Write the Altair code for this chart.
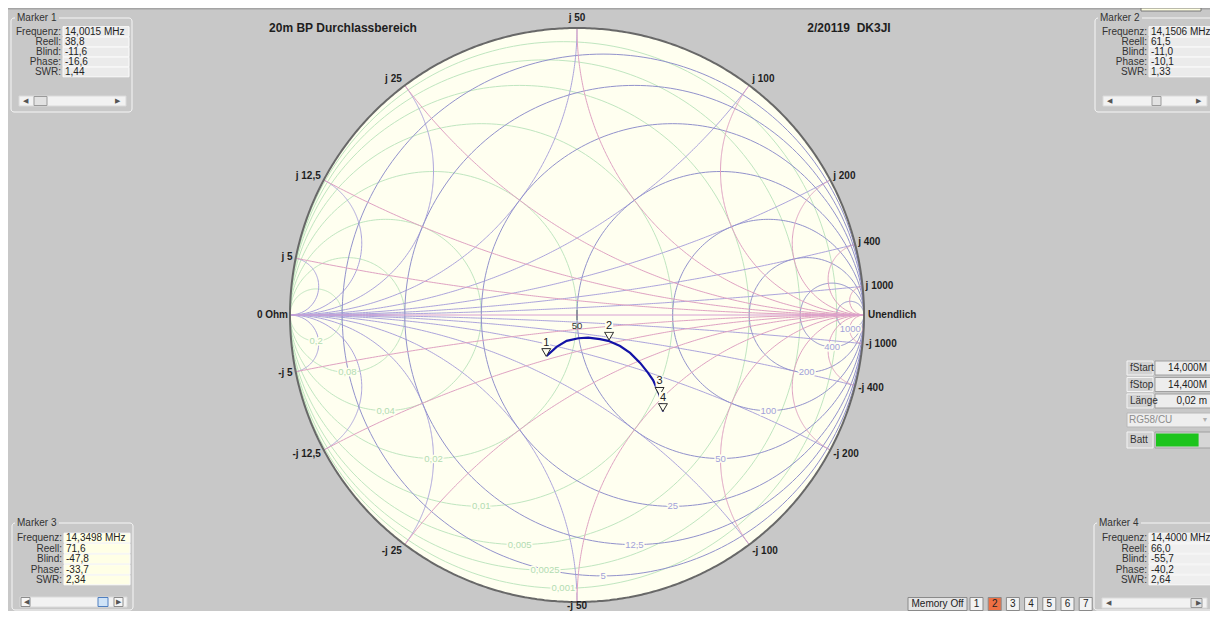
import numpy as np
import pandas as pd
import altair as alt

# ------------------------------------------------------------------ chart values
TITLE_LEFT = "20m BP Durchlassbereich"
TITLE_RIGHT = "2/20119 \u00a0DK3JI"
Z0 = 50.0

grid_ohms = [5, 12.5, 25, 50, 100, 200, 400, 1000]
grid_ohm_text = ["5", "12,5", "25", "50", "100", "200", "400", "1000"]
grid_siemens_text = ["0,2", "0,08", "0,04", "0,02", "0,01", "0,005", "0,0025", "0,001"]
react_pos_text = ["j 5", "j 12,5", "j 25", "j 50", "j 100", "j 200", "j 400", "j 1000"]
react_neg_text = ["-j 5", "-j 12,5", "-j 25", "-j 50", "-j 100", "-j 200", "-j 400", "-j 1000"]
SHORT_TEXT = "0 Ohm"
OPEN_TEXT = "Unendlich"
CENTRE_TEXT = "50"

# sweep 14,000 ... 14,400 MHz as reflection coefficient (re, im)
trace_re = [-0.106, -0.071, -0.036, 0.005, 0.039, 0.080, 0.109, 0.150, 0.185,
            0.220, 0.247, 0.265, 0.277, 0.288, 0.293, 0.300]
trace_im = [-0.143, -0.111, -0.090, -0.081, -0.079, -0.084, -0.090, -0.108, -0.132,
            -0.167, -0.201, -0.227, -0.254, -0.280, -0.307, -0.336]

marker_id = ["1", "2", "3", "4"]
marker_freq = ["14,0015 MHz", "14,1506 MHz", "14,3498 MHz", "14,4000 MHz"]
marker_real = [38.8, 61.5, 71.6, 66.0]
marker_imag = [-11.6, -11.0, -47.8, -55.7]
marker_phase = [-16.6, -10.1, -33.7, -40.2]
marker_swr = [1.44, 1.33, 2.34, 2.64]

field_names = ["Frequenz:", "Reell:", "Blind:", "Phase:", "SWR:"]
sweep_names = ["fStart", "fStop", "Länge"]
sweep_values = ["14,000M", "14,400M", "0,02 m"]
cable_name = "RG58/CU"
battery_label = "Batt"
battery_level = 0.71
memory_buttons = ["Memory Off", "1", "2", "3", "4", "5", "6", "7"]
memory_active = "2"

# ------------------------------------------------------------------ layout / style
PAGE_W, PAGE_H, MARGIN = 1218, 619, 8
CX, CY, RAD = 577.0, 315.0, 287.0      # pixel centre and radius of the unit circle


def gx(px):
    return (px - CX) / RAD


def gy(py):
    return (CY - py) / RAD


X_DOMAIN = [gx(MARGIN), gx(PAGE_W - MARGIN)]
Y_DOMAIN = [gy(PAGE_H - MARGIN), gy(MARGIN)]
xs = alt.Scale(domain=X_DOMAIN, nice=False, zero=False)
ys = alt.Scale(domain=Y_DOMAIN, nice=False, zero=False)

BG = "#c8c8c8"
DISK = "#fffff0"
R_COL = "#9292cc"
B_COL = "#aca4dc"
X_COL = "#dfa2c2"
G_COL = "#c0e6c0"
AXIS_COL = "#d8a0d2"
RIM_COL = "#686868"
R_LAB = "#a2a2da"
G_LAB = "#b2dcb2"
TXT = "#1e1e1e"
FONT = "Liberation Sans"


def XY(xf="x", yf="y"):
    return dict(x=alt.X(f"{xf}:Q", scale=xs, axis=None),
                y=alt.Y(f"{yf}:Q", scale=ys, axis=None))


# ------------------------------------------------------------------ Smith grid
def circle(cx, cy, rad, n=241):
    t = np.linspace(0, 2 * np.pi, n)
    return cx + rad * np.cos(t), cy + rad * np.sin(t)


phi = np.linspace(0, np.pi / 2, 220)[:-1]
tt = np.tan(phi)


def react_arc(x):
    z = tt + 1j * x
    g = np.append((z - 1) / (z + 1), 1 + 0j)
    return g.real, g.imag


def susc_arc(b):
    y = tt + 1j * b
    g = np.append((1 - y) / (1 + y), -1 + 0j)
    return g.real, g.imag


def curve_df(curves):
    rows = []
    for cid, (px, py) in enumerate(curves):
        for i, (a, b) in enumerate(zip(px, py)):
            rows.append((cid, i, round(float(a), 4), round(float(b), 4)))
    return pd.DataFrame(rows, columns=["cid", "i", "x", "y"])


norm = [v / Z0 for v in grid_ohms]
adm = [Z0 / v for v in grid_ohms]

r_df = curve_df([circle(r / (1 + r), 0, 1 / (1 + r)) for r in norm])
g_df = curve_df([circle(-g / (1 + g), 0, 1 / (1 + g)) for g in adm])
x_df = curve_df([react_arc(s * x) for x in norm for s in (1, -1)])
b_df = curve_df([susc_arc(s * b) for b in adm for s in (1, -1)])
rim_df = curve_df([circle(0, 0, 1, 721)])
axis_df = pd.DataFrame({"cid": [0, 0], "i": [0, 1], "x": [-1.0, 1.0], "y": [0.0, 0.0]})

th = np.linspace(0, np.pi, 400)
disk_df = pd.DataFrame({"x": np.cos(th), "lo": -np.sin(th), "hi": np.sin(th)}).sort_values("x")


def line_layer(df, color, width=1.0):
    return alt.Chart(df).mark_line(color=color, strokeWidth=width).encode(
        **XY(), detail="cid:N", order="i:Q")


disk = alt.Chart(disk_df).mark_area(color=DISK).encode(
    x=alt.X("x:Q", scale=xs, axis=None), y=alt.Y("lo:Q", scale=ys, axis=None), y2=alt.Y2("hi:Q"))

# ------------------------------------------------------------------ texts & rects
texts = {}
rects = []
frames = []


def add_text(style, px, py, s, color=TXT):
    texts.setdefault(style, []).append(dict(x=gx(px), y=gy(py), text=s, color=color))


def add_text_g(style, gxv, gyv, s, color=TXT):
    texts.setdefault(style, []).append(dict(x=gxv, y=gyv, text=s, color=color))


def add_rect(x1, y1, x2, y2, fill, stroke="transparent", lst=None):
    (rects if lst is None else lst).append(
        dict(x=gx(x1), x2=gx(x2), y=gy(y1), y2=gy(y2), fill=fill, stroke=stroke))


STYLES = {
    "ui_r": dict(align="right", fontSize=10),
    "ui_l": dict(align="left", fontSize=10),
    "ui_c": dict(align="center", fontSize=10),
    "arrow": dict(align="center", fontSize=7),
    "title": dict(align="center", fontSize=12, fontWeight="bold"),
    "bl_r": dict(align="right", fontSize=10, fontWeight="bold"),
    "bl_l": dict(align="left", fontSize=10, fontWeight="bold"),
    "bl_c": dict(align="center", fontSize=10, fontWeight="bold"),
    "grid": dict(align="center", fontSize=9.5),
    "centre": dict(align="center", fontSize=9.5, dy=11),
}

# titles
add_text("title", 343, 28, TITLE_LEFT)
add_text("title", 849, 28, TITLE_RIGHT)

# boundary labels of the reactance values
for xv, tp, tn in zip(norm, react_pos_text, react_neg_text):
    for s, lab in ((1, tp), (-1, tn)):
        x = s * xv
        P = complex((x * x - 1) / (x * x + 1), 2 * x / (x * x + 1))
        px, py = CX + RAD * P.real, CY - RAD * P.imag
        if abs(P.real) < 0.1:
            add_text("bl_c", px, min(py - 10 * np.sign(P.imag), 606), lab)
        elif P.real < 0:
            add_text("bl_r", px - 3, py - 8 * P.imag, lab)
        else:
            add_text("bl_l", px + 3, py - 8 * P.imag, lab)
add_text("bl_r", CX - RAD - 2, CY, SHORT_TEXT)
add_text("bl_l", CX + RAD + 4, CY, OPEN_TEXT)

# resistance / conductance labels at the foot of each circle
for r, lab in zip(norm, grid_ohm_text):
    add_text_g("grid", r / (1 + r), -1 / (1 + r), lab, R_LAB)
for g, lab in zip(adm, grid_siemens_text):
    add_text_g("grid", -g / (1 + g), -1 / (1 + g), lab, G_LAB)
add_text_g("centre", 0.0, 0.0, CENTRE_TEXT, "#333333")

# top strip and clipped tooltip
add_rect(MARGIN, MARGIN, PAGE_W - MARGIN, MARGIN + 1.5, "#a4a4a4")
add_rect(1141, MARGIN, 1201, 11, "#ffffe1", "#777777")


def de(v, nd=1):
    return f"{v:.{nd}f}".replace(".", ",")


boxes = [
    dict(left=11, right=132, top=18, bottom=112, tx=17, lab=61, v1=63, v2=129,
         rows=[31.5, 42, 52, 62, 72], sy=101, thumb=(34, 47), vfill="#ebebeb", btn=False),
    dict(left=1095, right=1213, top=18, bottom=112, tx=1100, lab=1147, v1=1149, v2=1211,
         rows=[31.5, 42, 52, 62, 72], sy=101, thumb=(1152, 1161), vfill="#ebebeb", btn=False),
    dict(left=12, right=133, top=523, bottom=610, tx=17, lab=62, v1=64, v2=130,
         rows=[538, 548.5, 559, 569.5, 580], sy=602, thumb=(98, 108), vfill="#ffffe6", btn=True),
    dict(left=1094, right=1213, top=523, bottom=610, tx=1099, lab=1147, v1=1149, v2=1211,
         rows=[538, 548.5, 559, 569.5, 580], sy=603, thumb=(1191, 1202), vfill="#efefef", btn=False),
]
for k, bx in enumerate(boxes):
    add_rect(bx["left"], bx["top"], bx["right"], bx["bottom"], "transparent", "#f6f6f6", frames)
    title = f"Marker {marker_id[k]}"
    add_rect(bx["tx"] - 2, bx["top"] - 5, bx["tx"] + 42, bx["top"] + 5, BG)
    add_text("ui_l", bx["tx"], bx["top"], title, "#333333")
    vals = [marker_freq[k], de(marker_real[k]), de(marker_imag[k]), de(marker_phase[k]), de(marker_swr[k], 2)]
    for ry, name, val in zip(bx["rows"], field_names, vals):
        add_rect(bx["v1"], ry - 4.8, bx["v2"], ry + 4.8, bx["vfill"], "#fbfbfb")
        add_text("ui_r", bx["lab"], ry, name, "#333333")
        add_text("ui_l", bx["v1"] + 2, ry, val, "#222222")
    sy = bx["sy"]
    add_rect(bx["left"] + 8, sy - 5, bx["right"] - 6, sy + 5, "#f2f2f2", "#dadada")
    if bx["btn"]:
        add_rect(bx["left"] + 9, sy - 4.5, bx["left"] + 18, sy + 4.5, "#f6f6f6", "#8c8c8c")
        add_rect(bx["right"] - 19, sy - 4.5, bx["right"] - 10, sy + 4.5, "#f6f6f6", "#8c8c8c")
        add_rect(bx["thumb"][0], sy - 4.5, bx["thumb"][1], sy + 4.5, "#cfe3f7", "#4f7fc0")
    else:
        add_rect(bx["thumb"][0], sy - 4.5, bx["thumb"][1], sy + 4.5, "#e2e2e2", "#9a9a9a")
    add_text("arrow", bx["left"] + 14, sy, "◀", "#555555")
    add_text("arrow", bx["right"] - 15, sy, "▶", "#555555")

# sweep panel
for ry, name, val in zip([368, 384.5, 401], sweep_names, sweep_values):
    add_rect(1127, ry - 7, 1153, ry + 7, "#d2d2d2", "#f4f4f4")
    add_rect(1155, ry - 7, 1217, ry + 7, "#ededed", "#a0a0a0")
    add_text("ui_l", 1130, ry, name, "#333333")
    add_text("ui_r", 1207, ry, val, "#222222")
add_rect(1127, 413, 1217, 427, "#eeeeee", "#b8b8b8")
add_text("ui_l", 1129, 420, cable_name, "#8c8c8c")
add_text("arrow", 1205, 420, "▼", "#b0b0b0")
add_rect(1127, 432, 1153, 448, "#d2d2d2", "#f4f4f4")
add_text("ui_l", 1130, 440, battery_label, "#333333")
add_rect(1155, 432, 1217, 448, "#d6d6d6", "#a0a0a0")
add_rect(1156, 433.5, 1156 + battery_level * (1216 - 1156), 446.5, "#1cc41c")

# memory buttons
bxs = [(908, 967)] + [(970 + 18.2 * i, 983 + 18.2 * i) for i in range(7)]
for (a, b), lab in zip(bxs, memory_buttons):
    fill = "#ee7044" if lab == memory_active else ("#e4e4e4" if lab == memory_buttons[0] else "#f2f2f2")
    add_rect(a, 597.5, b, 610.5, fill, "#8a8a8a")
    add_text("ui_c", (a + b) / 2, 604, lab, "#222222")


def rect_layer(lst, corner=0):
    return alt.Chart(pd.DataFrame(lst)).mark_rect(strokeWidth=1, cornerRadius=corner).encode(
        x=alt.X("x:Q", scale=xs, axis=None), x2=alt.X2("x2:Q"),
        y=alt.Y("y:Q", scale=ys, axis=None), y2=alt.Y2("y2:Q"),
        fill=alt.Fill("fill:N", scale=None), stroke=alt.Stroke("stroke:N", scale=None))


def text_layer(style, halo=False):
    p = dict(baseline="middle", font=FONT)
    p.update(STYLES[style])
    df = pd.DataFrame(texts[style])
    if halo:
        return alt.Chart(df).mark_text(stroke=DISK, strokeWidth=3, fill=DISK, **p).encode(
            **XY(), text="text:N")
    return alt.Chart(df).mark_text(**p).encode(
        **XY(), text="text:N", color=alt.Color("color:N", scale=None))


# ------------------------------------------------------------------ trace and markers
trace_df = pd.DataFrame({"i": range(len(trace_re)), "x": trace_re, "y": trace_im})
zm = (np.array(marker_real) + 1j * np.array(marker_imag)) / Z0
gm = (zm - 1) / (zm + 1)
mk_df = pd.DataFrame({"x": gm.real, "y": gm.imag, "text": marker_id})

trace = alt.Chart(trace_df).mark_line(color="#1212a6", strokeWidth=2.2).encode(**XY(), order="i:Q")
tri = alt.Chart(mk_df).mark_point(shape="triangle-down", size=80, filled=True, fill=DISK,
                                  stroke="#2a2a2a", strokeWidth=1, opacity=1, yOffset=-4).encode(**XY())
mk_bg = alt.Chart(mk_df).mark_point(shape="M-0.8,-1.1L0.8,-1.1L0.8,1.1L-0.8,1.1Z", size=100,
                                    filled=True, color=DISK, opacity=1, yOffset=-14).encode(**XY())
mk_txt = alt.Chart(mk_df).mark_text(fontSize=11, font=FONT, color="#222222", dy=-14,
                                    baseline="middle").encode(**XY(), text="text:N")
centre_tick = alt.Chart(pd.DataFrame({"x": [0.0], "y": [0.0]})).mark_tick(
    orient="vertical", size=10, thickness=1, color="#444444").encode(**XY())

layers = [
    rect_layer(rects[:2]),
    disk,
    line_layer(g_df, G_COL),
    line_layer(b_df, B_COL),
    line_layer(r_df, R_COL),
    line_layer(x_df, X_COL),
    line_layer(axis_df, AXIS_COL),
    line_layer(rim_df, RIM_COL, 2.0),
    text_layer("grid", halo=True),
    text_layer("grid"),
    centre_tick,
    text_layer("centre"),
    trace,
    tri,
    mk_bg,
    mk_txt,
    rect_layer(frames, corner=3),
    rect_layer(rects[2:]),
]
for st in ["ui_r", "ui_l", "ui_c", "arrow", "title", "bl_r", "bl_l", "bl_c"]:
    layers.append(text_layer(st))

chart = alt.layer(*layers).properties(
    width=PAGE_W - 2 * MARGIN, height=PAGE_H - 2 * MARGIN, padding=0,
    autosize=alt.AutoSizeParams(type="none"), background=BG,
).configure_view(stroke=None)

chart.save("out.html", embed_options={"renderer": "svg", "actions": False})
